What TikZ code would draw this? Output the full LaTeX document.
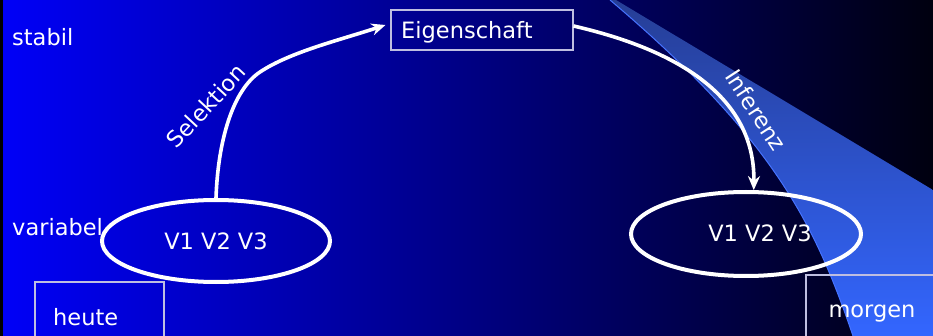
\documentclass[tikz,border=0pt]{standalone}
\usepackage{fontspec}
\setmainfont{DejaVu Sans}
\usetikzlibrary{arrows.meta,shapes.geometric,calc}
\definecolor{bgleft}{RGB}{0,0,248}
\definecolor{bgmid}{RGB}{0,0,185}
\definecolor{bgright}{RGB}{0,0,15}
\definecolor{wedgetop}{RGB}{38,62,150}
\definecolor{wedgebot}{RGB}{51,102,255}
\definecolor{wedgeedge}{RGB}{70,115,255}
\definecolor{boxline}{RGB}{190,190,225}
\tikzset{
  txt/.style={text=white, inner sep=0pt},
  frame/.style={draw=boxline, line width=1.1pt},
  oval/.style={ellipse, draw=white, line width=4pt, inner sep=0pt, text=white},
  conn/.style={draw=white, line width=3.6pt, -{Stealth[length=14pt,width=12pt]}}
}
\begin{document}
\begin{tikzpicture}[x=1pt,y=-1pt,font=\fontsize{22.5}{26}\selectfont]
\useasboundingbox (0,0) rectangle (933,336);
% background
\shade[left color=bgleft, middle color=bgmid, right color=bgright] (0,0) rectangle (933,336);
\fill[black] (0,0) rectangle (3,336);
% wedge
\shade[top color=wedgetop, bottom color=wedgebot]
  (610,0) -- (616,0) -- (933,190) -- (933,336) -- (853,336)
  .. controls (815,225) and (775,140) .. (610,0) -- cycle;
\draw[wedgeedge, line width=1pt] (853,336) .. controls (815,225) and (775,140) .. (610,0);
% boxes
\draw[frame] (35,282) rectangle (164,345);
\draw[frame] (806,275) rectangle (945,345);
\node[frame, minimum width=182pt, minimum height=40pt, inner sep=0pt] (E) at (482,30) {};
\node[txt, anchor=base west] (Et) at (401,39) {Eigenschaft};
% ellipses
\node[oval, minimum width=228pt, minimum height=82pt] (L) at (216,241) {V1 V2 V3};
\node[oval, minimum width=230pt, minimum height=84pt] (R) at (746,234) {};
\node[txt, anchor=base] (Rt) at (760,242) {V1 V2 V3};
% labels
\node[txt, anchor=base west] (stabil) at (12,46) {stabil};
\node[txt, anchor=base west] (variabel) at (12,236) {variabel};
\node[txt, anchor=base west] (heute) at (53,325) {heute};
\node[txt, anchor=base] (morgen) at (872,317) {morgen};
% connectors
\draw[conn] (L.north) .. controls (218,140) and (233,90) .. (260,72)
  .. controls (290,52) and (340,40) .. ($(E.west)+(-5,-5)$);
\draw[conn] ($(E.east)+(0,-4)$) .. controls (700,55) and (755,110) .. (R.80);
\node[txt, rotate=47] (sel) at (206,106) {Selektion};
\node[txt, rotate=-57] (inf) at (756,110) {Inferenz};
\end{tikzpicture}
\end{document}
